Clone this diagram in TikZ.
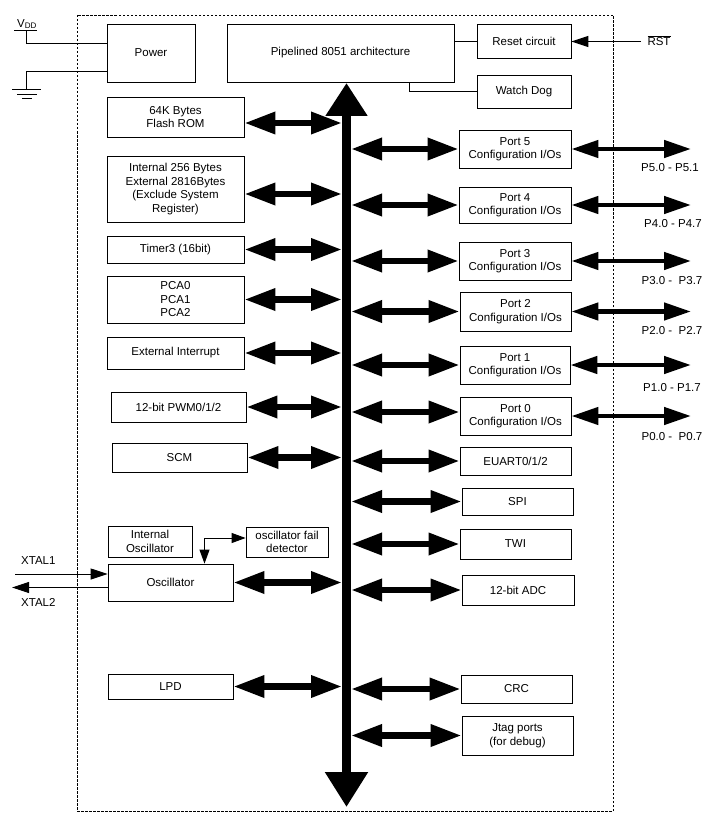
\documentclass[tikz,border=0pt]{standalone}
\usepackage{fontspec}
\setmainfont{Liberation Sans}
\usetikzlibrary{arrows.meta}

\begin{document}
\begin{tikzpicture}[x=1pt,y=-1pt,
  every node/.style={inner sep=0pt, font=\fontsize{11.5}{13.5}\selectfont},
  blk/.style={draw, line width=0.8pt, align=center},
  wire/.style={line width=1pt},
  busarr/.style={line width=6.5pt, {Triangle[length=31pt,width=21pt]}-{Triangle[length=31pt,width=21pt]}},
  pinarr/.style={line width=4.5pt, {Triangle[length=27pt,width=17pt]}-{Triangle[length=27pt,width=17pt]}},
  sigarr/.style={line width=1pt, -{Triangle[length=17pt,width=11pt]}}]
\useasboundingbox (0,0) rectangle (725,824);
% chip outline
\draw [line width=0.8pt, dash pattern=on 2.5pt off 1.5pt] (77,15) rectangle (613,811);
% top row
\node [blk, minimum width=88, minimum height=58] (power) at (151,53) {Power};
\node [blk, minimum width=227, minimum height=58] (pipe) at (340.5,53) {Pipelined 8051 architecture};
\node [blk, minimum width=94, minimum height=34] (reset) at (524,41.5) {Reset circuit};
\node [blk, minimum width=94, minimum height=33] (wdog) at (524,91.5) {Watch Dog};
% left column
\node [blk, minimum width=137, minimum height=40] (flash) at (175.5,117) {64K Bytes\\Flash ROM};
\node [blk, minimum width=137, minimum height=66] (ram) at (175.5,189) {Internal 256 Bytes\\External 2816Bytes\\(Exclude System\\Register)};
\node [blk, minimum width=137, minimum height=27] (timer) at (175.5,249.5) {Timer3 (16bit)};
\node [blk, minimum width=137, minimum height=47] (pca) at (175.5,299.5) {PCA0\\PCA1\\PCA2};
\node [blk, minimum width=137, minimum height=32] (extint) at (175.5,353) {External Interrupt};
\node [blk, minimum width=135, minimum height=30] (pwm) at (178.5,407) {12-bit PWM0/1/2};
\node [blk, minimum width=135, minimum height=29] (scm) at (179.5,457.5) {SCM};
\node [blk, minimum width=84, minimum height=31] (intosc) at (150,541.5) {Internal\\Oscillator};
\node [blk, minimum width=82, minimum height=30] (faildet) at (287,542) {oscillator fail\\detector};
\node [blk, minimum width=125, minimum height=37] (osc) at (170.5,582.5) {Oscillator};
\node [blk, minimum width=125, minimum height=25] (lpd) at (170.5,686.5) {LPD};
% right column
\node [blk, minimum width=112, minimum height=38] (port5) at (515,149) {Port 5\\Configuration I/Os};
\node [blk, minimum width=112, minimum height=36] (port4) at (515,205) {Port 4\\Configuration I/Os};
\node [blk, minimum width=112, minimum height=38] (port3) at (515,261) {Port 3\\Configuration I/Os};
\node [blk, minimum width=111, minimum height=39] (port2) at (515.5,311.5) {Port 2\\Configuration I/Os};
\node [blk, minimum width=110, minimum height=38] (port1) at (515,365) {Port 1\\Configuration I/Os};
\node [blk, minimum width=111, minimum height=38] (port0) at (515.5,416) {Port 0\\Configuration I/Os};
\node [blk, minimum width=111, minimum height=28] (euart) at (515.5,461) {EUART0/1/2};
\node [blk, minimum width=111, minimum height=27] (spi) at (517.5,501.5) {SPI};
\node [blk, minimum width=111, minimum height=30] (twi) at (515.5,544) {TWI};
\node [blk, minimum width=112, minimum height=30] (adc) at (518,590) {12-bit ADC};
\node [blk, minimum width=111, minimum height=28] (crc) at (516.5,689) {CRC};
\node [blk, minimum width=111, minimum height=39] (jtag) at (517.5,735.5) {Jtag ports\\(for debug)};
% pin labels
\node (vddlbl) at (27,24) {V\textsubscript{DD}};
\node (rstlbl) at (659,41) {\(\overline{\mbox{RST}}\)};
\node [anchor=west] (xt1lbl) at (21,561) {XTAL1};
\node [anchor=west] (xt2lbl) at (21,602) {XTAL2};
\node (p5lbl) at (670,168) {P5.0 - P5.1};
\node (p4lbl) at (673,224) {P4.0 - P4.7};
\node (p3lbl) at (672,281) {P3.0 -\ \ P3.7};
\node (p2lbl) at (672,330.5) {P2.0 -\ \ P2.7};
\node (p1lbl) at (672,388) {P1.0 - P1.7};
\node (p0lbl) at (672,437) {P0.0 -\ \ P0.7};
% helper points
\coordinate (vdd) at (26,31);
\coordinate (gnd) at (26,90);
\coordinate (rst) at (641,41.5);
\coordinate (xtal1) at (15,574);
\coordinate (xtal2) at (12,587.5);
\coordinate (bust) at (346.5,83);
\coordinate (busb) at (346.5,807);
\coordinate (busl) at (342,0);
\coordinate (busr) at (351,0);
\coordinate (pinend) at (691,0);
\coordinate (flashio) at ([yshift=-6pt]flash.east);
\coordinate (ramio) at ([yshift=-5pt]ram.east);
\coordinate (port0io) at ([yshift=4pt]port0.west);
\coordinate (oscin) at ([yshift=8.5pt]osc.west);
\coordinate (oscout) at ([yshift=-5pt]osc.west);
\coordinate (oscfd) at ([xshift=34pt]osc.north);
\coordinate (fdin) at ([yshift=4pt]faildet.west);
% supply
\draw [wire] (14,31) -- (37,31);
\draw [wire] (vdd) |- ([yshift=9pt]power.west);
\draw [wire] ([yshift=-19pt]power.west) -| (gnd);
\draw [wire] (12,90) -- (41,90);
\draw [wire] (17,95) -- (37,95);
\draw [wire] (22,99) -- (32,99);
% reset and watchdog
\draw [wire] (reset.west) -- (reset.west -| pipe.east);
\draw [wire] ([xshift=68.5pt]pipe.south) |- (wdog.west);
\draw [sigarr] (rst) -- (reset.east);
% clock
\draw [sigarr] (xtal1) -- (oscin);
\draw [sigarr] (oscout) -- (xtal2);
\draw [line width=1pt, {Triangle[length=14pt,width=10pt]}-{Triangle[length=14pt,width=10pt]}] (oscfd) |- (fdin);
% internal bus
\draw [line width=8.5pt, {Triangle[length=33pt,width=40pt]}-{Triangle[length=35pt,width=41pt]}] (bust) -- (busb);
\draw [busarr] (flashio) -- (flashio -| busl);
\draw [busarr] (ramio) -- (ramio -| busl);
\draw [busarr] (timer.east) -- (timer.east -| busl);
\draw [busarr] (pca.east) -- (pca.east -| busl);
\draw [busarr] (extint.east) -- (extint.east -| busl);
\draw [busarr] (pwm.east) -- (pwm.east -| busl);
\draw [busarr] (scm.east) -- (scm.east -| busl);
\draw [busarr] (osc.east) -- (osc.east -| busl);
\draw [busarr] (lpd.east) -- (lpd.east -| busl);
\draw [busarr] (port5.west -| busr) -- (port5.west);
\draw [busarr] (port4.west -| busr) -- (port4.west);
\draw [busarr] (port3.west -| busr) -- (port3.west);
\draw [busarr] (port2.west -| busr) -- (port2.west);
\draw [busarr] (port1.west -| busr) -- (port1.west);
\draw [busarr] (port0io -| busr) -- (port0io);
\draw [busarr] (euart.west -| busr) -- (euart.west);
\draw [busarr] (spi.west -| busr) -- (spi.west);
\draw [busarr] (twi.west -| busr) -- (twi.west);
\draw [busarr] (adc.west -| busr) -- (adc.west);
\draw [busarr] (crc.west -| busr) -- (crc.west);
\draw [busarr] (jtag.west -| busr) -- (jtag.west);
% port pins
\draw [pinarr] (port5.east) -- (port5.east -| pinend);
\draw [pinarr] (port4.east) -- (port4.east -| pinend);
\draw [pinarr] (port3.east) -- (port3.east -| pinend);
\draw [pinarr] (port2.east) -- (port2.east -| pinend);
\draw [pinarr] (port1.east) -- (port1.east -| pinend);
\draw [pinarr] (port0.east) -- (port0.east -| pinend);
\end{tikzpicture}
\end{document}
